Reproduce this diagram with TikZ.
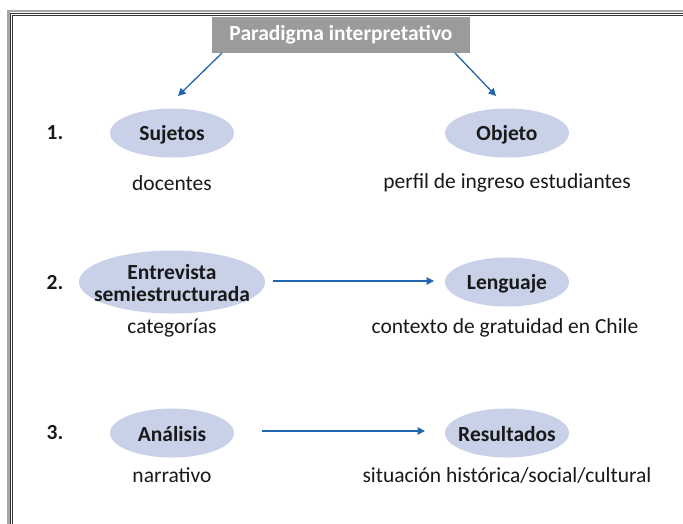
\documentclass[tikz,border=0pt]{standalone}
\usepackage{fontspec}
\setmainfont{Carlito}
\usetikzlibrary{arrows.meta,shapes.geometric}
\definecolor{ellfill}{HTML}{C8D1E8}
\definecolor{arrblue}{HTML}{2366B0}
\definecolor{titlegray}{HTML}{9B9B9B}
\tikzset{
  ell/.style={ellipse, fill=ellfill, inner sep=0pt},
  elltext/.style={font=\fontsize{21.5}{22}\selectfont\bfseries, text=black!90, align=center, yshift=-1.5pt},
  lbl/.style={font=\fontsize{21.5}{22}\selectfont, text=black!90},
  num/.style={font=\fontsize{21.5}{22}\selectfont\bfseries, text=black!90},
  arr/.style={arrblue, line width=1.3pt, -{Triangle[length=7.5pt,width=7.5pt]}},
}
\begin{document}
\begin{tikzpicture}[x=1pt,y=-1pt]
\useasboundingbox (0,0) rectangle (683,523);
\fill[white] (0,0) rectangle (683,523);
% frame
\draw[black!35, line width=2.5pt] (8.5,530) -- (8.5,11) -- (690,11);
\draw[black!80, line width=0.8pt] (10.5,530) -- (10.5,13) -- (690,13);
\draw[black!80, line width=0.8pt] (12.5,530) -- (12.5,15) -- (690,15);
% title
\node[fill=titlegray, text=white, font=\fontsize{21.5}{22}\selectfont\bfseries, minimum width=258pt, minimum height=36pt, inner sep=0pt] (title) at (341,35) {Paradigma interpretativo};
% row 1
\node[num] (n1) at (55,133) {1.};
\node[ell, minimum width=124pt, minimum height=49pt, label={[elltext]center:Sujetos}] (suj) at (172,133) {};
\node[ell, minimum width=124pt, minimum height=49pt, label={[elltext]center:Objeto}] (obj) at (507,133) {};
\node[lbl] (doc) at (172,183) {docentes};
\node[lbl] (perf) at (507,183) {perfil de ingreso estudiantes};
\coordinate (t1) at (222,53);
\coordinate (t2) at (455,53);
\coordinate (e1) at (178,96);
\coordinate (e2) at (496,96);
\draw[arr] (t1) -- (e1);
\draw[arr] (t2) -- (e2);
% row 2
\node[num] (n2) at (55,283) {2.};
\node[ell, minimum width=186pt, minimum height=63pt, label={[elltext]center:Entrevista\\semiestructurada}] (ent) at (172,282) {};
\node[ell, minimum width=124pt, minimum height=49pt, label={[elltext]center:Lenguaje}] (len) at (507,282) {};
\node[lbl] (cat) at (172,328) {categorías};
\node[lbl] (ctx) at (505,328) {contexto de gratuidad en Chile};
\coordinate (a2s) at (273,281);
\coordinate (a2e) at (434,281);
\draw[arr] (a2s) -- (a2e);
% row 3
\node[num] (n3) at (55,433) {3.};
\node[ell, minimum width=124pt, minimum height=49pt, label={[elltext]center:Análisis}] (ana) at (172,433) {};
\node[ell, minimum width=124pt, minimum height=49pt, label={[elltext]center:Resultados}] (res) at (507,433) {};
\node[lbl] (nar) at (172,475) {narrativo};
\node[lbl] (sit) at (507,475) {situación histórica/social/cultural};
\coordinate (a3s) at (262,431);
\coordinate (a3e) at (425,431);
\draw[arr] (a3s) -- (a3e);
\end{tikzpicture}
\end{document}
